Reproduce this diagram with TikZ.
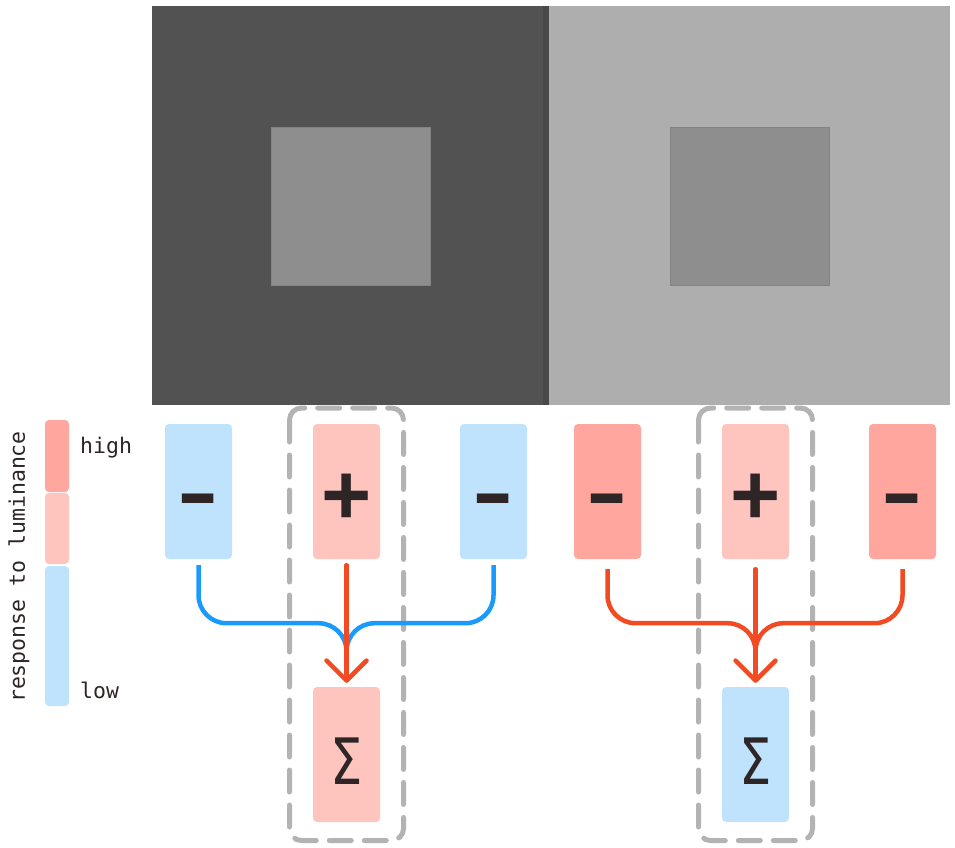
\documentclass[tikz,border=0pt]{standalone}
\usepackage{fontspec}
\usetikzlibrary{arrows.meta}
\newfontfamily\monof{DejaVu Sans Mono}
\newfontfamily\signf{Liberation Sans}
\newfontfamily\sigmaf{DejaVu Sans}
\definecolor{cblue}{HTML}{BFE3FC}
\definecolor{cpink}{HTML}{FEC5BF}
\definecolor{cred}{HTML}{FFA69E}
\definecolor{lblue}{HTML}{1A9BFC}
\definecolor{lred}{HTML}{F24A22}
\definecolor{dgray}{HTML}{B3B3B3}
\definecolor{ink}{HTML}{2E2626}
\definecolor{pdark}{HTML}{525252}
\definecolor{pdarker}{HTML}{494949}
\definecolor{plight}{HTML}{AEAEAE}
\definecolor{pmid}{HTML}{8E8E8E}
\newcommand{\minussign}{\raisebox{-15pt}[\height][\depth]{\scalebox{1.55}[1]{\signf\bfseries\fontsize{80}{80}\selectfont -}}}
\newcommand{\plussign}{\raisebox{-8pt}[\height][\depth]{\signf\bfseries\fontsize{86}{86}\selectfont +}}
\newcommand{\sigmasign}{\raisebox{-7pt}[\height][\depth]{\scalebox{0.8}[1]{\sigmaf\fontsize{64}{64}\selectfont Σ}}}
\begin{document}
\begin{tikzpicture}[x=1pt,y=-1pt,
  cell/.style={rectangle, rounded corners=4pt, minimum width=67pt, minimum height=135pt, inner sep=0pt, text=ink},
  bluecell/.style={cell, fill=cblue},
  pinkcell/.style={cell, fill=cpink},
  redcell/.style={cell, fill=cred},
  legbar/.style={rectangle, rounded corners=4pt, minimum width=24pt, inner sep=0pt},
  conn/.style={line width=4.5pt, rounded corners=28pt},
  arr/.style={line width=4.5pt, line cap=round, shorten >=4pt, -{Straight Barb[length=20pt,width=40pt,round]}},
  grp/.style={draw=dgray, line width=5pt, rounded corners=12pt, dash pattern=on 22pt off 13pt, line cap=round},
  lab/.style={font=\monof\fontsize{21.5}{21.5}\selectfont, text=ink, inner sep=0pt}
]
\useasboundingbox (0,0) rectangle (955,847);

% group outlines
\draw[grp] (289.5,408) rectangle (403.5,840.5);
\draw[grp] (698.5,408) rectangle (812.5,840.5);

% stimulus panels
\fill[pdark] (152,6) rectangle (549,405);
\fill[pdarker] (543,6) rectangle (549,405);
\fill[plight] (549,6) rectangle (950,405);
\filldraw[fill=pmid, draw=pmid!92!black, line width=1pt] (271.5,127.5) rectangle (430.5,285.5);
\filldraw[fill=pmid, draw=pmid!92!black, line width=1pt] (670.5,127.5) rectangle (829.5,285.5);

% legend
\node[legbar, fill=cred, minimum height=72pt] (lg1) at (57,456) {};
\node[legbar, fill=cpink, minimum height=71pt] (lg2) at (57,528.5) {};
\node[legbar, fill=cblue, minimum height=140pt] (lg3) at (57,636) {};
\node[lab, anchor=west] (hi) at (80,448) {high};
\node[lab, anchor=west] (lo) at (80,690) {low};
\node[lab, rotate=90] (rl) at (19,567) {response to luminance};

% cells
\node[bluecell] (b1) at (198.5,491.5) {\minussign};
\node[pinkcell] (b2) at (346.5,491.5) {\plussign};
\node[bluecell] (b3) at (493.5,491.5) {\minussign};
\node[redcell]  (b4) at (607.5,491.5) {\minussign};
\node[pinkcell] (b5) at (755.5,491.5) {\plussign};
\node[redcell]  (b6) at (902.5,491.5) {\minussign};
\node[pinkcell] (s1) at (346.5,754.5) {\sigmasign};
\node[bluecell] (s2) at (755.5,754.5) {\sigmasign};

% connectors left
\draw[conn, draw=lblue] ([yshift=-6pt]b1.south) |- ([yshift=-64pt]b2.south) -- ([yshift=-96pt]b2.south);
\draw[conn, draw=lblue] ([yshift=-6pt]b3.south) |- ([yshift=-64pt]b2.south) -- ([yshift=-96pt]b2.south);
\draw[arr, draw=lred] ([yshift=-6pt]b2.south) -- (s1.north);

% connectors right
\draw[conn, draw=lred] ([yshift=-10pt]b4.south) |- ([yshift=-64pt]b5.south) -- ([yshift=-96pt]b5.south);
\draw[conn, draw=lred] ([yshift=-10pt]b6.south) |- ([yshift=-64pt]b5.south) -- ([yshift=-96pt]b5.south);
\draw[arr, draw=lred] ([yshift=-10pt]b5.south) -- (s2.north);
\end{tikzpicture}
\end{document}
